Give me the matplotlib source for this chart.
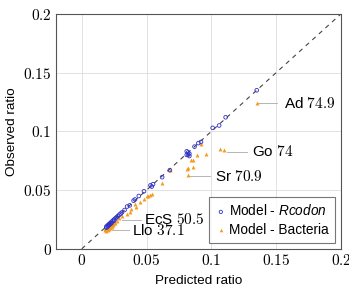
import matplotlib.pyplot as plt
from matplotlib.ticker import FuncFormatter
from matplotlib.font_manager import FontProperties

plt.rcParams['font.family'] = ['Liberation Sans', 'DejaVu Sans']
plt.rcParams['mathtext.fontset'] = 'cm'
plt.rcParams['mathtext.it'] = 'Liberation Sans:italic'
plt.rcParams['mathtext.rm'] = 'Liberation Sans'

# Model - Rcodon (predicted, observed)
rc_pred = [0.135, 0.111, 0.106, 0.101, 0.092, 0.090, 0.087, 0.081, 0.082, 0.083, 0.083,
           0.081, 0.082, 0.068, 0.062, 0.055, 0.053, 0.054, 0.048, 0.044, 0.041, 0.040,
           0.037, 0.035, 0.033, 0.031, 0.030, 0.029, 0.028, 0.027, 0.026, 0.025, 0.024,
           0.023, 0.022, 0.021, 0.020, 0.019, 0.025, 0.023, 0.022, 0.021, 0.020, 0.019]
rc_obs = [0.135, 0.112, 0.105, 0.103, 0.091, 0.090, 0.087, 0.083, 0.080, 0.081, 0.079,
          0.080, 0.082, 0.067, 0.061, 0.055, 0.054, 0.053, 0.049, 0.045, 0.042, 0.041,
          0.037, 0.036, 0.033, 0.031, 0.030, 0.029, 0.028, 0.027, 0.026, 0.025, 0.024,
          0.023, 0.022, 0.021, 0.020, 0.019, 0.024, 0.022, 0.021, 0.020, 0.019, 0.018]

# Model - Bacteria (predicted, observed)
ba_pred = [0.135, 0.107, 0.110, 0.096, 0.089, 0.092, 0.086, 0.084, 0.082, 0.081, 0.086,
           0.082, 0.068, 0.062, 0.054, 0.053, 0.051, 0.050, 0.048, 0.045, 0.041, 0.042,
           0.038, 0.037, 0.035, 0.031, 0.029, 0.027, 0.025, 0.024, 0.023, 0.022, 0.021,
           0.020, 0.019, 0.018, 0.024, 0.022, 0.021, 0.020, 0.019, 0.018, 0.026, 0.023]
ba_obs = [0.124, 0.085, 0.084, 0.081, 0.080, 0.089, 0.076, 0.076, 0.069, 0.068, 0.070,
          0.063, 0.067, 0.056, 0.047, 0.046, 0.045, 0.045, 0.042, 0.040, 0.038, 0.036,
          0.034, 0.031, 0.030, 0.028, 0.026, 0.024, 0.022, 0.021, 0.020, 0.019, 0.019,
          0.018, 0.017, 0.016, 0.020, 0.018, 0.017, 0.016, 0.015, 0.017, 0.022, 0.019]

# Labelled organisms: name, value, point, line end, text position
labels = ['Ad', 'Go', 'Sr', 'EcS', 'Llo']
label_vals = ['74.9', '74', '70.9', '50.5', '37.1']
label_y = [0.124, 0.0826, 0.062, 0.0247, 0.016]
line_x0 = [0.1355, 0.112, 0.0811, 0.0314, 0.0236]
line_x1 = [0.151, 0.1278, 0.099, 0.046, 0.0368]
text_x = [0.1557, 0.1316, 0.103, 0.0484, 0.039]

fig, ax = plt.subplots(figsize=(3.49, 2.90), dpi=100)
fig.subplots_adjust(left=0.16, right=0.977, top=0.952, bottom=0.142)

ax.plot([0, 0.2], [0, 0.2], color='#444444', linestyle=(0, (4, 4)), linewidth=0.8, zorder=1)

ax.scatter(rc_pred, rc_obs, s=7, marker='o', facecolors='none', edgecolors='#3030c8',
           linewidths=0.6, label='Model - $\\mathit{Rcodon}$', zorder=3)
ax.scatter(ba_pred, ba_obs, s=8, marker='^', color='#f39c1e', linewidths=0,
           label='Model - Bacteria', zorder=2)

for name, val, y, x0, x1, tx in zip(labels, label_vals, label_y, line_x0, line_x1, text_x):
    ax.plot([x0, x1], [y, y], color='#aaaaaa', linewidth=0.6, zorder=1)
    ax.text(tx, y, name + ' $' + val + '$', fontsize=11, va='center', ha='left', zorder=4)

ax.set_xlim(-0.02, 0.2)
ax.set_ylim(0, 0.2)
ticks = [0, 0.05, 0.1, 0.15, 0.2]
ax.set_xticks(ticks)
ax.set_yticks(ticks)
fmt = FuncFormatter(lambda v, p: '$' + ('%g' % v) + '$')
ax.xaxis.set_major_formatter(fmt)
ax.yaxis.set_major_formatter(fmt)
ax.tick_params(length=0, labelsize=11, pad=3)
ax.grid(color='#dddddd', linewidth=0.6)
ax.set_axisbelow(True)
for s in ax.spines.values():
    s.set_color('#555555')
    s.set_linewidth(0.8)

ax.set_xlabel('Predicted ratio', fontsize=9.7, labelpad=5)
ax.set_ylabel('Observed ratio', fontsize=9.7, labelpad=4)

leg_font = FontProperties(family=['Liberation Sans', 'DejaVu Sans'], size=9.8,
                          math_fontfamily='custom')
leg = ax.legend(loc='lower right', prop=leg_font, markerscale=0.9, handletextpad=0.2,
                handlelength=0.8, borderpad=0.45, labelspacing=0.3, fancybox=False,
                borderaxespad=0.45)
leg.get_frame().set_edgecolor('#555555')
leg.get_frame().set_linewidth(0.8)

plt.savefig('out.png', dpi=100)
